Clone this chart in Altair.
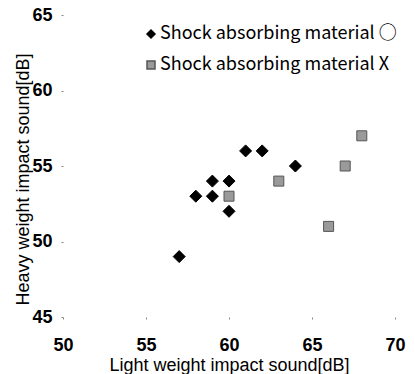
import altair as alt
import pandas as pd

# Light / heavy weight impact sound measurements per shock absorbing material
mat_o_light = [57, 58, 59, 59, 60, 60, 61, 62, 64]
mat_o_heavy = [49, 53, 53, 54, 54, 52, 56, 56, 55]
mat_x_light = [60, 63, 66, 67, 68]
mat_x_heavy = [53, 54, 51, 55, 57]
series_names = ["Shock absorbing material ○", "Shock absorbing material X"]

df = pd.DataFrame(
    {
        "light": mat_o_light + mat_x_light,
        "heavy": mat_o_heavy + mat_x_heavy,
        "material": [series_names[0]] * len(mat_o_light)
        + [series_names[1]] * len(mat_x_light),
    }
)

FONT = "Liberation Sans"

legend = alt.Legend(
    title=None,
    orient="none",
    legendX=79,
    legendY=10,
    labelFont="Noto Sans CJK KR",
    labelFontSize=18,
    labelColor="#000",
    labelLimit=400,
    symbolSize=64,
    rowPadding=13,
    labelOffset=0,
)

points = (
    alt.Chart(df)
    .mark_point(filled=True, opacity=1, strokeWidth=1)
    .encode(
        x=alt.X(
            "light:Q",
            title="Light weight impact sound[dB]",
            scale=alt.Scale(domain=[50, 70], nice=False, zero=False),
            axis=alt.Axis(
                values=[50, 55, 60, 65, 70],
                labelFlush=False,
                labelPadding=17,
                titlePadding=2,
            ),
        ),
        y=alt.Y(
            "heavy:Q",
            title="Heavy weight impact sound[dB]",
            scale=alt.Scale(domain=[45, 65], nice=False, zero=False),
            axis=alt.Axis(
                values=[45, 50, 55, 60, 65],
                labelFlush=False,
                labelPadding=9,
                titleX=-31,
                titleY=164,
            ),
        ),
        shape=alt.Shape(
            "material:N",
            scale=alt.Scale(domain=series_names, range=["diamond", "square"]),
            legend=legend,
        ),
        color=alt.Color(
            "material:N",
            scale=alt.Scale(domain=series_names, range=["#000000", "#9a9a9a"]),
            legend=legend,
        ),
        stroke=alt.Stroke(
            "material:N",
            scale=alt.Scale(domain=series_names, range=["#000000", "#555555"]),
            legend=legend,
        ),
        size=alt.condition(
            alt.datum.material == series_names[0], alt.value(144), alt.value(100)
        ),
    )
)

chart = (
    points.properties(
        width=332,
        height=302,
        autosize=alt.AutoSizeParams(type="none"),
        padding={"left": 63, "top": 15, "right": 20, "bottom": 57},
    )
    .configure_view(stroke=None)
    .configure_axis(
        domain=False,
        grid=False,
        ticks=True,
        tickSize=2,
        tickColor="#888",
        labelFont=FONT,
        labelFontSize=18,
        labelFontWeight="bold",
        labelColor="#000",
        titleFont=FONT,
        titleFontSize=18,
        titleFontWeight="normal",
        titleColor="#000",
    )
)

chart.save("out.html", embed_options={"renderer": "svg", "actions": False})
